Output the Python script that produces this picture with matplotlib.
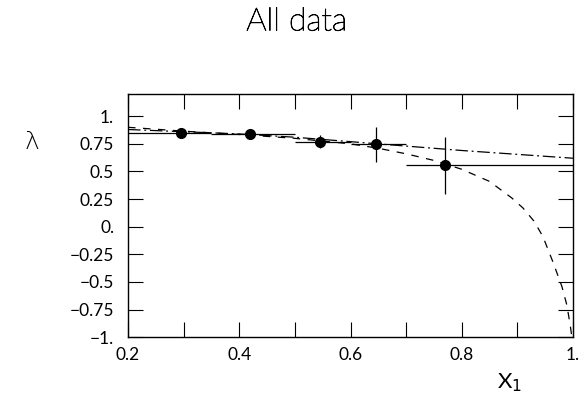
import numpy as np
import matplotlib.pyplot as plt
import matplotlib.patheffects as pe
from matplotlib.ticker import FixedLocator

# measured points (bin centres, lambda values)
x_pts = [0.295, 0.42, 0.545, 0.645, 0.77]
lam = [0.85, 0.835, 0.77, 0.745, 0.555]
lam_err = [0.03, 0.03, 0.06, 0.16, 0.26]
bin_lo = [0.2, 0.35, 0.5, 0.6, 0.7]
bin_hi = [0.35, 0.5, 0.6, 0.7, 1.0]

# dashed model curve
dash_x = [0.2, 0.3, 0.4, 0.5, 0.6, 0.65, 0.7, 0.75, 0.8, 0.85, 0.89, 0.91,
          0.93, 0.946, 0.964, 0.98, 0.989, 0.995, 0.998]
dash_y = [0.9, 0.865, 0.835, 0.8, 0.75, 0.71, 0.66, 0.6, 0.52, 0.41, 0.26, 0.17,
          0.05, -0.09, -0.32, -0.54, -0.71, -0.89, -1.0]

# dash-dot model curve
dd_x = [0.2, 0.3, 0.4, 0.5, 0.6, 0.7, 0.8, 0.9, 1.0]
dd_y = [0.88, 0.86, 0.84, 0.81, 0.77, 0.73, 0.69, 0.655, 0.62]

plt.rcParams['font.family'] = ['Lato', 'DejaVu Sans']

fig = plt.figure(figsize=(5.82, 3.99), dpi=100)
ax = fig.add_axes([0.22, 0.155, 0.7645, 0.609])

xl = [x - lo for x, lo in zip(x_pts, bin_lo)]
xh = [hi - x for x, hi in zip(x_pts, bin_hi)]
ax.errorbar(x_pts, lam, yerr=lam_err, xerr=[xl, xh], fmt='o', color='black',
            ms=7, elinewidth=0.9, capsize=0)
ax.plot(dash_x, dash_y, color='black', lw=0.9, ls=(0, (6, 6)))
ax.plot(dd_x, dd_y, color='black', lw=0.9, ls=(0, (10, 3, 1.5, 3)))

ax.set_xlim(0.2, 1.0)
ax.set_ylim(-1.0, 1.2)
ax.xaxis.set_major_locator(FixedLocator([0.2, 0.4, 0.6, 0.8, 1.0]))
ax.xaxis.set_minor_locator(FixedLocator([0.3, 0.5, 0.7, 0.9]))
ax.yaxis.set_major_locator(FixedLocator([-1, -0.75, -0.5, -0.25, 0, 0.25, 0.5, 0.75, 1.0]))
ax.set_xticklabels(['0.2', '0.4', '0.6', '0.8', '1.'])
ax.set_yticklabels(['\u22121.', '\u22120.75', '\u22120.5', '\u22120.25', '0.',
                    '0.25', '0.5', '0.75', '1.'])
ax.tick_params(which='both', direction='in', top=True, right=True, length=11,
               width=0.8, labelsize=12.5, colors='black')
ax.tick_params(axis='y', pad=10)
ax.tick_params(axis='x', pad=7)
for s in ax.spines.values():
    s.set_linewidth(1.0)

fig.text(0.51, 0.945, 'All data', ha='center', va='center', fontsize=23,
         fontweight='light', color='black',
         path_effects=[pe.withStroke(linewidth=0.6, foreground='black')])
fig.text(0.055, 0.645, '\u03bb', ha='center', va='center', fontsize=18,
         family='DejaVu Sans', fontweight='light')
fig.text(0.875, 0.04, 'X$_1$', ha='center', va='center', fontsize=16)

fig.savefig('out.png', dpi=100)
